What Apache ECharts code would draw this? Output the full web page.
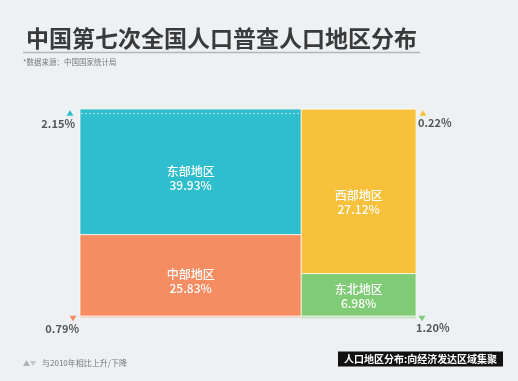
<!DOCTYPE html>
<html>
<head>
<meta charset="utf-8">
<script src="https://cdn.jsdelivr.net/npm/echarts@6/dist/echarts.min.js"></script>
<style>
html,body{margin:0;padding:0;background:#eef1f3;}
#main{width:518px;height:381px;}
</style>
</head>
<body>
<div id="main"></div>
<script>
// ---- data ----
var titleText = '中国第七次全国人口普查人口地区分布';
var sourceText = '*数据来源：中国国家统计局';
var legendText = '与2010年相比上升/下降';
var noteText = '人口地区分布:向经济发达区域集聚';
var regions = ['东部地区', '中部地区', '西部地区', '东北地区'];
var shares = [39.93, 25.83, 27.12, 6.98];          // % of population, 2020
var changes = [2.15, -0.79, 0.22, -1.20];          // change vs 2010, percentage points
var columnsIdx = [[0, 1], [2, 3]];                 // regions stacked in each column

// ---- styles ----
var FONT = '"Noto Sans CJK SC", "Noto Sans", sans-serif';
var colors = ['#2fbecd', '#f68d62', '#f8c13b', '#80cc76'];
var labelShift = [7, 6, 11, 2];

// ---- build layout data from values ----
var total = 0;
columnsIdx.forEach(function (c) { c.forEach(function (i) { total += shares[i]; }); });
var items = [];
var xCursor = 0;
columnsIdx.forEach(function (col, ci) {
  var colSum = 0;
  col.forEach(function (i) { colSum += shares[i]; });
  var yCursor = 0;
  col.forEach(function (i, k) {
    var h = shares[i] / colSum * 100;
    items.push({
      value: [xCursor, xCursor + colSum, yCursor, yCursor + h, changes[i], ci, k === 0 ? 1 : 0, i],
      name: regions[i]
    });
    yCursor += h;
  });
  xCursor += colSum;
});

function tri(cx, cy, up, color) {
  var w = 3.5, h = 5.5;
  var pts = up ? [[cx - w, cy + h / 2], [cx + w, cy + h / 2], [cx, cy - h / 2]]
               : [[cx - w, cy - h / 2], [cx + w, cy - h / 2], [cx, cy + h / 2]];
  return { type: 'polygon', shape: { points: pts }, style: { fill: color } };
}

function renderItem(params, api) {
  var x0 = api.value(0), x1 = api.value(1), y0 = api.value(2), y1 = api.value(3);
  var chg = api.value(4), ci = api.value(5), isTop = api.value(6), ri = api.value(7);
  var p0 = api.coord([x0, y0]);
  var p1 = api.coord([x1, y1]);
  var color = colors[ri];
  var children = [];
  var left = p0[0], right = p1[0], top = p0[1], bottom = p1[1];
  // change strip (axis units: percentage points of plot height)
  var unit = api.size([0, 1])[1];
  var dh = Math.abs(chg) * unit;
  if (chg < 0) {
    children.push({ type: 'rect', shape: { x: left, y: bottom, width: right - left, height: dh },
      style: { fill: color, opacity: 0.35 } });
  }
  children.push({ type: 'rect', shape: { x: left, y: top, width: right - left, height: bottom - top },
    style: { fill: color, stroke: 'rgba(255,250,235,0.75)', lineWidth: 1 } });
  if (chg > 0 && isTop) {
    children.push({ type: 'line', shape: { x1: left + 1, y1: top + dh, x2: right - 1, y2: top + dh },
      style: { stroke: 'rgba(255,255,255,0.75)', lineWidth: 0.8, lineDash: [2, 2] } });
  }
  // region label
  children.push({ type: 'text', x: (left + right) / 2, y: (top + bottom) / 2 + labelShift[ri],
    style: { text: regions[ri] + '\n' + shares[ri].toFixed(2) + '%', fill: '#fff', font: '500 12px ' + FONT,
      align: 'center', verticalAlign: 'middle', lineHeight: 14 } });
  // change marker
  var isLeft = ci === 0;
  var txt = Math.abs(chg).toFixed(2) + '%';
  var tStyle = { text: txt, fill: '#555', font: 'bold 11px ' + FONT, verticalAlign: 'middle' };
  if (chg > 0) {
    var ty = top;
    if (isLeft) {
      children.push(tri(left - 10, ty + 4, true, color));
      tStyle.align = 'right';
      children.push({ type: 'text', x: left - 5, y: ty + 15, style: tStyle });
    } else {
      children.push(tri(right + 7, ty + 4, true, color));
      tStyle.align = 'left';
      children.push({ type: 'text', x: right + 2, y: ty + 14, style: tStyle });
    }
  } else {
    var by = bottom;
    if (isLeft) {
      children.push(tri(left - 7, by + 2.5, false, color));
      tStyle.align = 'right';
      children.push({ type: 'text', x: left - 1, y: by + 13, style: tStyle });
    } else {
      children.push(tri(right + 6, by + 2.5, false, color));
      tStyle.align = 'left';
      children.push({ type: 'text', x: right, y: by + 12, style: tStyle });
    }
  }
  return { type: 'group', children: children };
}

var chart = echarts.init(document.getElementById('main'), null, { renderer: 'canvas' });
chart.setOption({
  backgroundColor: '#eef1f3',
  animation: false,
  title: {
    text: titleText, left: 21, top: 22,
    textStyle: { fontFamily: FONT, fontSize: 23, fontWeight: 'bold', color: '#3a3a3a' }
  },
  grid: { left: 80, top: 109, width: 336, height: 207 },
  xAxis: { type: 'value', min: 0, max: total, show: false },
  yAxis: { type: 'value', min: 0, max: 100, inverse: true, show: false },
  series: [{
    type: 'custom',
    renderItem: renderItem,
    data: items,
    silent: true
  }],
  graphic: [
    { type: 'line', shape: { x1: 23, y1: 52.5, x2: 420, y2: 52.5 }, style: { stroke: '#b5b7b9', lineWidth: 1.5 } },
    { type: 'text', x: 23, y: 62, style: { text: sourceText, fill: '#777', font: '7.5px ' + FONT, verticalAlign: 'middle' } },
    { type: 'polygon', shape: { points: [[23, 366], [30, 366], [26.5, 360]] }, style: { fill: '#b3b3b3' } },
    { type: 'polygon', shape: { points: [[30, 361], [36, 361], [33, 366]] }, style: { fill: '#c6c6c6' } },
    { type: 'text', x: 42, y: 363, style: { text: legendText, fill: '#777', font: '8px ' + FONT, verticalAlign: 'middle' } },
    { type: 'rect', shape: { x: 338, y: 351.5, width: 165, height: 15 }, style: { fill: '#111' } },
    { type: 'text', x: 420.5, y: 359, style: { text: noteText, fill: '#fff', font: 'bold 10px ' + FONT, align: 'center', verticalAlign: 'middle' } }
  ]
});
</script>
</body>
</html>
